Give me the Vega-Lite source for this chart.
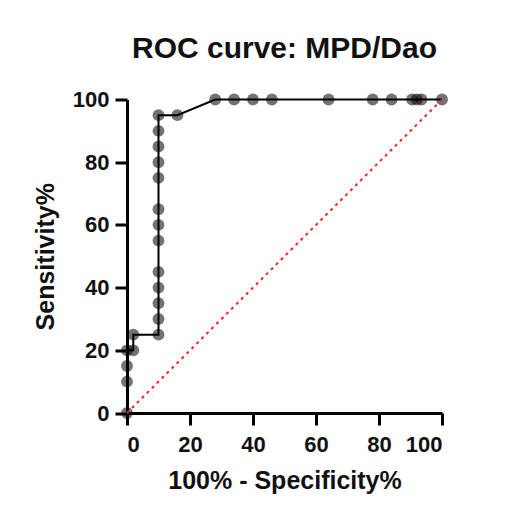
{
  "$schema": "https://vega.github.io/schema/vega-lite/v6.json",
  "width": 315,
  "height": 313.5,
  "autosize": {"type": "none"},
  "padding": {"left": 127, "top": 99.5, "right": 65, "bottom": 100},
  "background": "white",
  "config": {
    "view": {"stroke": null},
    "font": "Liberation Sans",
    "axis": {
      "grid": false,
      "domainColor": "black",
      "domainWidth": 3,
      "tickColor": "black",
      "tickWidth": 3,
      "tickSize": 12,
      "labelFont": "Liberation Sans",
      "labelFontSize": 22,
      "labelFontWeight": "bold",
      "labelColor": "#111",
      "titleFont": "Liberation Sans",
      "titleFontSize": 25,
      "titleFontWeight": "bold",
      "titleColor": "#111"
    }
  },
  "title": {
    "text": "ROC curve: MPD/Dao",
    "font": "Liberation Sans",
    "fontSize": 30,
    "fontWeight": "bold",
    "color": "#111",
    "anchor": "middle",
    "baseline": "alphabetic",
    "offset": 1
  },
  "datasets": {
    "roc": [
      {"order": 1, "fpr": 0, "tpr": 0},
      {"order": 2, "fpr": 0, "tpr": 10},
      {"order": 3, "fpr": 0, "tpr": 15},
      {"order": 4, "fpr": 0, "tpr": 20},
      {"order": 5, "fpr": 2, "tpr": 20},
      {"order": 6, "fpr": 2, "tpr": 25},
      {"order": 7, "fpr": 10, "tpr": 25},
      {"order": 8, "fpr": 10, "tpr": 30},
      {"order": 9, "fpr": 10, "tpr": 35},
      {"order": 10, "fpr": 10, "tpr": 40},
      {"order": 11, "fpr": 10, "tpr": 45},
      {"order": 12, "fpr": 10, "tpr": 55},
      {"order": 13, "fpr": 10, "tpr": 60},
      {"order": 14, "fpr": 10, "tpr": 65},
      {"order": 15, "fpr": 10, "tpr": 75},
      {"order": 16, "fpr": 10, "tpr": 80},
      {"order": 17, "fpr": 10, "tpr": 85},
      {"order": 18, "fpr": 10, "tpr": 90},
      {"order": 19, "fpr": 10, "tpr": 95},
      {"order": 20, "fpr": 16, "tpr": 95},
      {"order": 21, "fpr": 28, "tpr": 100},
      {"order": 22, "fpr": 34, "tpr": 100},
      {"order": 23, "fpr": 40, "tpr": 100},
      {"order": 24, "fpr": 46, "tpr": 100},
      {"order": 25, "fpr": 64, "tpr": 100},
      {"order": 26, "fpr": 78, "tpr": 100},
      {"order": 27, "fpr": 84, "tpr": 100},
      {"order": 28, "fpr": 90.5, "tpr": 100},
      {"order": 29, "fpr": 92, "tpr": 100},
      {"order": 30, "fpr": 93.5, "tpr": 100},
      {"order": 31, "fpr": 100, "tpr": 100}
    ],
    "chance": [
      {"fpr": 0, "tpr": 0},
      {"fpr": 100, "tpr": 100}
    ]
  },
  "encoding": {
    "x": {
      "field": "fpr",
      "type": "quantitative",
      "scale": {"domain": [0, 100], "nice": false, "zero": false},
      "axis": {"title": "100% - Specificity%", "values": [0, 20, 40, 60, 80, 100], "labelPadding": 9, "titlePadding": 13}
    },
    "y": {
      "field": "tpr",
      "type": "quantitative",
      "scale": {"domain": [0, 100], "nice": false, "zero": false},
      "axis": {"title": "Sensitivity%", "values": [0, 20, 40, 60, 80, 100], "labelPadding": 6, "titlePadding": 14}
    }
  },
  "layer": [
    {
      "data": {"name": "roc"},
      "mark": {"type": "line", "color": "black", "strokeWidth": 2, "clip": false},
      "encoding": {"order": {"field": "order", "type": "quantitative"}}
    },
    {
      "data": {"name": "roc"},
      "mark": {"type": "circle", "size": 140, "color": "black", "opacity": 0.55, "clip": false}
    },
    {
      "data": {"name": "chance"},
      "mark": {"type": "line", "color": "#ff2020", "strokeWidth": 2, "strokeDash": [3, 4], "clip": false},
      "encoding": {}
    }
  ]
}
